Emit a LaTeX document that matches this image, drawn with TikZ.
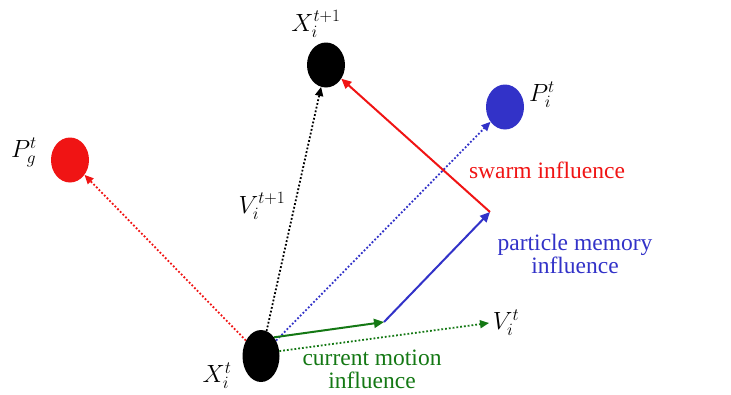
\documentclass[tikz,border=0pt]{standalone}
\usepackage{fontspec}
\setmainfont{Liberation Serif}
\usetikzlibrary{shapes.geometric,arrows.meta}
\definecolor{myred}{RGB}{240,20,20}
\definecolor{myblue}{RGB}{50,50,200}
\definecolor{mygreen}{RGB}{20,120,20}
\tikzset{
  ball/.style={ellipse,inner sep=0pt,minimum width=38pt,minimum height=45pt},
  lbl/.style={font=\fontsize{24}{26}\selectfont,inner sep=0pt},
  txt/.style={font=\fontsize{23.5}{23}\selectfont,align=center,inner sep=0pt},
  dots/.style={line width=1.8pt,dotted,-{Triangle[length=9pt,width=8pt]}},
  solid arr/.style={line width=2pt,-{Triangle[length=10pt,width=9pt]}},
}
\begin{document}
\begin{tikzpicture}[x=1pt,y=-1pt]
\useasboundingbox (0,0) rectangle (731,394);
% particles
\node[ball,fill=black,minimum height=52pt,minimum width=37pt] (X) at (261,356) {};
\node[ball,fill=black] (Xn) at (326,65) {};
\node[ball,fill=myblue] (Pi) at (505,107) {};
\node[ball,fill=myred] (Pg) at (70,160) {};
% labels
\node[lbl] (lXn) at (316,24) {$X_i^{t+1}$};
\node[lbl] (lPi) at (542,95) {$P_i^t$};
\node[lbl] (lPg) at (24,152) {$P_g^t$};
\node[lbl] (lX) at (217,376) {$X_i^t$};
\node[lbl] (lV) at (506,323) {$V_i^t$};
\node[lbl] (lVn) at (262,206) {$V_i^{t+1}$};
% texts
\node[txt,text=myred] (sw) at (547,170) {swarm influence};
\node[txt,text=myblue] (pm) at (575,254) {particle memory\\influence};
\node[txt,text=mygreen] (cm) at (372,369) {current motion\\influence};
% coordinates
\coordinate (c1) at (384,322);
\coordinate (c2) at (490,212);
\coordinate (v) at (489,323);
% dotted arrows
\draw[dots,myred] (X) -- (Pg);
\draw[dots,black] (X) -- (Xn);
\draw[dots,myblue] (X) -- (Pi);
\draw[dots,mygreen] (X.15) -- (v);
% solid arrows
\draw[solid arr,mygreen] (X.55) -- (c1);
\draw[solid arr,myblue] (c1) -- (c2);
\draw[solid arr,myred] (c2) -- (Xn);
\end{tikzpicture}
\end{document}
